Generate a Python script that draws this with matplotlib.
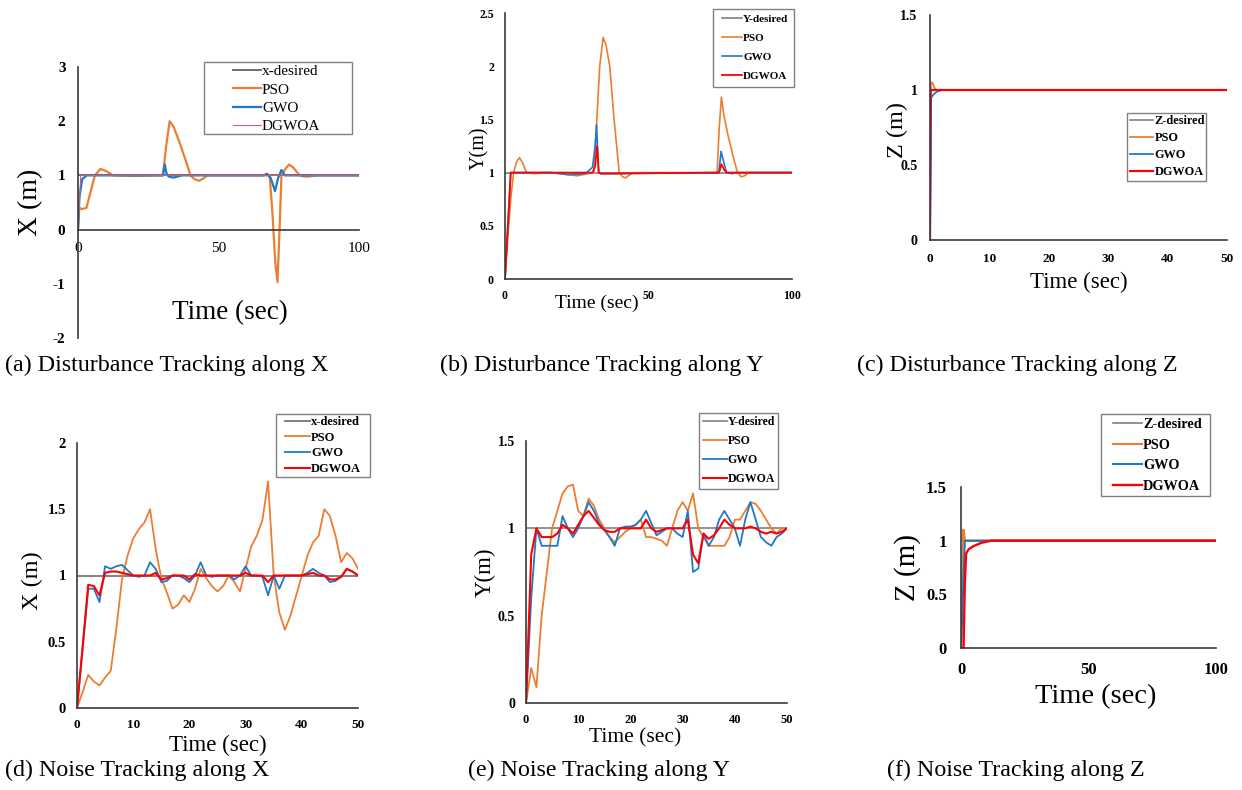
import numpy as np
import matplotlib
matplotlib.use('Agg')
import matplotlib.pyplot as plt
from matplotlib.patches import Rectangle
from matplotlib.ticker import FormatStrFormatter

plt.rcParams['font.family'] = ['Liberation Serif', 'DejaVu Serif']

# ---------------- data ----------------
# (a) disturbance, X
a_t_des = [0, 100]
a_des = [1, 1]
a_t_pso = [0, 0.5, 1.5, 3, 4.5, 6, 8, 10, 12.5, 20, 30.2, 31.4, 32.6, 34, 36.2, 38.5, 40, 41.5, 43, 44.5, 46, 60, 68.2,
           69.2, 70.2, 71, 71.8, 72.4, 73.8, 75.1, 76.5, 78.9, 80.5, 82, 85, 100]
a_pso = [0, 0.4, 0.38, 0.4, 0.7, 1.0, 1.12, 1.08, 1.0, 0.99, 1.0, 1.55, 2.0, 1.9, 1.6, 1.25, 1.0, 0.93, 0.9, 0.94, 1.0,
         1.0, 1.0, 0.3, -0.6, -0.97, 0.1, 1.0, 1.12, 1.2, 1.15, 1.0, 0.98, 0.98, 1.0, 1.0]
a_t_gwo = [0, 0.5, 1.5, 3, 30.2, 30.9, 31.4, 32.2, 34, 37, 66, 67.3, 68.6, 70.1, 71.2, 72.4, 73.6, 75, 100]
a_gwo = [0, 0.6, 0.93, 1.0, 1.0, 1.2, 1.05, 0.98, 0.96, 1.0, 1.0, 1.03, 0.95, 0.71, 0.95, 1.1, 1.0, 1.0, 1.0]
a_t_dgw = [0, 1, 100]
a_dgw = [0, 1.0, 1.0]

# (b) disturbance, Y
b_t_des = [0, 100]
b_des = [1, 1]
b_t_pso = [0, 1, 2, 3, 4, 5, 6, 7.5, 10, 16, 20, 25, 29, 31, 31.9, 33, 34.2, 35.2, 36.5, 38, 39.8, 41, 42, 43, 44.5,
           73.9, 74.6, 75.4, 76.2, 77.7, 79.5, 81, 82.3, 83.5, 85, 100]
b_pso = [0, 0.4, 0.75, 1.0, 1.1, 1.14, 1.1, 1.0, 0.99, 1.0, 0.99, 0.97, 0.99, 1.0, 1.45, 2.0, 2.27, 2.2, 2.0, 1.5, 1.0,
         0.96, 0.95, 0.97, 1.0, 1.0, 1.4, 1.71, 1.55, 1.35, 1.15, 1.0, 0.96, 0.97, 1.0, 1.0]
b_t_gwo = [0, 2, 16, 22, 28, 30.5, 31.4, 31.9, 32.6, 33.5, 74.5, 75.3, 76.2, 77.2, 79, 81, 100]
b_gwo = [0, 1.0, 1.0, 0.98, 0.99, 1.05, 1.25, 1.45, 1.0, 0.99, 1.0, 1.2, 1.1, 1.0, 0.99, 1.0, 1.0]
b_t_dgw = [0, 2, 30.5, 31.4, 32.1, 32.7, 33.5, 74.6, 75.4, 76.3, 77.2, 100]
b_dgw = [0, 1.0, 1.0, 1.06, 1.25, 1.0, 0.99, 1.0, 1.08, 1.03, 1.0, 1.0]

# (c) disturbance, Z
c_t_des = [0, 50]
c_des = [1, 1]
c_t_pso = [0, 0.15, 0.4, 0.7, 1.0, 50]
c_pso = [0, 1.05, 1.05, 1.02, 1.0, 1.0]
c_t_gwo = [0, 0.2, 0.6, 1.2, 2, 50]
c_gwo = [0, 0.95, 0.97, 0.99, 1.0, 1.0]
c_t_dgw = [0, 0.1, 50]
c_dgw = [0, 1.0, 1.0]

# (d) noise, X  (one reading per second)
d_t = np.arange(51)
d_des = [1] * 51
d_pso = [0, 0.12, 0.25, 0.2, 0.17, 0.23, 0.28, 0.6, 0.97, 1.15,
         1.28, 1.35, 1.4, 1.5, 1.2, 0.98, 0.87, 0.75, 0.78, 0.85,
         0.8, 0.9, 1.05, 0.98, 0.92, 0.88, 0.92, 1.0, 0.95, 0.88,
         1.05, 1.22, 1.3, 1.42, 1.71, 1.0, 0.72, 0.59, 0.7, 0.85,
         1.0, 1.15, 1.25, 1.3, 1.5, 1.45, 1.3, 1.1, 1.17, 1.13, 1.05]
d_gwo = [0, 0.45, 0.9, 0.9, 0.8, 1.07, 1.05, 1.07, 1.08, 1.04,
         1.0, 0.99, 1.0, 1.1, 1.05, 0.95, 0.96, 1.0, 1.0, 0.98,
         0.95, 1.0, 1.1, 1.0, 0.99, 1.0, 1.0, 1.0, 0.97, 1.0,
         1.07, 1.0, 1.0, 0.99, 0.85, 1.0, 0.9, 1.0, 1.0, 1.0,
         1.0, 1.02, 1.05, 1.02, 1.0, 0.95, 0.96, 0.99, 1.05, 1.03, 1.0]
d_dgw = [0, 0.46, 0.93, 0.92, 0.85, 1.02, 1.03, 1.03, 1.02, 1.01,
         1.0, 1.0, 1.0, 1.0, 1.02, 0.97, 0.98, 1.0, 1.0, 1.0,
         0.97, 1.01, 1.0, 1.0, 1.0, 1.0, 1.0, 1.0, 1.0, 1.0,
         1.02, 1.0, 1.0, 1.0, 0.95, 1.0, 1.0, 1.0, 1.0, 1.0,
         1.0, 1.01, 1.02, 1.0, 1.0, 0.97, 0.97, 0.99, 1.05, 1.03, 1.0]

# (e) noise, Y
e_t = np.arange(51)
e_des = [1] * 51
e_pso = [0, 0.2, 0.09, 0.5, 0.75, 1.0, 1.1, 1.2, 1.24, 1.25,
         1.1, 1.07, 1.17, 1.13, 1.05, 1.0, 0.95, 0.92, 0.95, 0.98,
         1.0, 1.02, 1.05, 0.95, 0.95, 0.94, 0.93, 0.9, 1.0, 1.1,
         1.15, 1.1, 1.2, 1.0, 0.95, 0.9, 0.9, 0.9, 0.9, 0.95,
         1.05, 1.05, 1.1, 1.15, 1.14, 1.1, 1.05, 1.0, 0.97, 1.0, 1.0]
e_gwo = [0, 0.6, 1.0, 0.9, 0.9, 0.9, 0.9, 1.07, 1.0, 0.95,
         1.0, 1.07, 1.15, 1.1, 1.03, 0.99, 0.95, 0.9, 1.0, 1.01,
         1.01, 1.02, 1.05, 1.1, 1.03, 0.96, 0.98, 1.0, 1.0, 0.97,
         0.95, 1.1, 0.75, 0.77, 0.97, 0.9, 0.95, 1.05, 1.1, 1.05,
         1.0, 0.9, 1.05, 1.15, 1.05, 0.95, 0.92, 0.9, 0.95, 0.97, 1.0]
e_dgw = [0, 0.85, 1.0, 0.95, 0.95, 0.95, 0.97, 1.02, 1.0, 0.97,
         1.02, 1.07, 1.1, 1.06, 1.02, 0.99, 0.98, 0.98, 1.0, 1.0,
         1.0, 1.0, 1.0, 1.05, 1.0, 0.98, 0.99, 1.0, 1.0, 1.0,
         1.0, 1.05, 0.85, 0.8, 0.97, 0.94, 0.96, 1.0, 1.05, 1.02,
         1.0, 1.0, 1.0, 1.01, 1.0, 0.98, 0.97, 0.98, 0.97, 0.98, 1.0]

# (f) noise, Z
f_t_des = [0, 100]
f_des = [1, 1]
f_t_pso = [0, 0.8, 1.1, 1.5, 2, 100]
f_pso = [0, 1.1, 1.1, 1.0, 1.0, 1.0]
f_t_gwo = [0, 1.5, 2, 100]
f_gwo = [0, 1.0, 1.0, 1.0]
f_t_dgw = [0, 1.0, 1.5, 2, 3, 5, 8, 12, 100]
f_dgw = [0, 0, 0.6, 0.88, 0.92, 0.95, 0.98, 1.0, 1.0]

captions = ['(a) Disturbance Tracking along X', '(b) Disturbance Tracking along Y',
            '(c) Disturbance Tracking along Z', '(d) Noise Tracking along X',
            '(e) Noise Tracking along Y', '(f) Noise Tracking along Z']

GRAY = '#808080'
ORANGE = '#ED7D31'
BLUE = '#1F78C8'
RED = '#FF0000'
AXC = '#3a3a3a'

W, H = 1242, 790
fig = plt.figure(figsize=(W / 100, H / 100), dpi=100)


def box(x0, x1, ytop, ybot):
    return [x0 / W, 1 - ybot / H, (x1 - x0) / W, (ybot - ytop) / H]


def panel(px, xlim, ylim, xticks, yticks, xfs, yfs, pad):
    ax = fig.add_axes(box(*px))
    ax.set_xlim(xlim)
    ax.set_ylim(ylim)
    ax.set_xticks(xticks)
    ax.set_yticks(yticks)
    ax.xaxis.set_major_formatter(FormatStrFormatter('%g'))
    ax.yaxis.set_major_formatter(FormatStrFormatter('%g'))
    for s in ['top', 'right']:
        ax.spines[s].set_visible(False)
    for s in ['left', 'bottom']:
        ax.spines[s].set_color(AXC)
        ax.spines[s].set_linewidth(1.2)
    ax.tick_params(axis='x', length=0, labelsize=xfs, pad=pad)
    ax.tick_params(axis='y', length=0, labelsize=yfs, pad=pad)
    for lab in ax.get_xticklabels() + ax.get_yticklabels():
        lab.set_fontweight('bold')
    ax.set_facecolor('none')
    return ax


def labels(ax, ylab, yfs, ypos, xfs, xpos):
    ax.set_ylabel(ylab, fontsize=yfs)
    ax.yaxis.set_label_coords(*ypos)
    ax.yaxis.label.set_va('center')
    ax.set_xlabel('Time (sec)', fontsize=xfs)
    ax.xaxis.set_label_coords(*xpos)
    ax.xaxis.label.set_va('center')


def legend(ax, frame, hx, cy, fs, hl, ls, weight='bold'):
    ax.legend(loc='center left', bbox_to_anchor=(hx / W, 1 - cy / H), bbox_transform=fig.transFigure,
              frameon=False, borderpad=0, borderaxespad=0, handlelength=hl, handletextpad=0.1,
              labelspacing=ls, prop={'weight': weight, 'size': fs})
    x0, x1, y0, y1 = frame
    fig.add_artist(Rectangle((x0 / W, 1 - y1 / H), (x1 - x0) / W, (y1 - y0) / H,
                             transform=fig.transFigure, fill=False, ec=GRAY, lw=1.0))


# ---- (a)
ax = panel((78, 359, 67, 338), (0, 100), (-2, 3), [0, 50, 100], [-2, -1, 0, 1, 2, 3], 11, 11, 9)
ax.spines['bottom'].set_position(('data', 0))
ax.plot(a_t_des, a_des, color='#6d6d6d', lw=1.4, label='x-desired')
ax.plot(a_t_pso, a_pso, color=ORANGE, lw=1.6, label='PSO')
ax.plot(a_t_gwo, a_gwo, color=BLUE, lw=1.6, label='GWO')
ax.plot(a_t_dgw, a_dgw, color='#c8607a', lw=0.8, label='DGWOA')
labels(ax, 'X (m)', 20, (-0.17, 0.5), 19.5, (0.54, 0.092))
legend(ax, (204, 352, 62, 134), 233, 99, 11, 1.8, 0.3, weight='normal')

# ---- (b)
ax = panel((505, 792, 13, 279), (0, 100), (0, 2.5), [0, 50, 100], [0, 0.5, 1, 1.5, 2, 2.5], 8.5, 8.5, 8)
ax.plot(b_t_des, b_des, color=GRAY, lw=1.2, label='Y-desired')
ax.plot(b_t_pso, b_pso, color=ORANGE, lw=1.2, label='PSO')
ax.plot(b_t_gwo, b_gwo, color=BLUE, lw=1.2, label='GWO')
ax.plot(b_t_dgw, b_dgw, color=RED, lw=1.3, label='DGWOA')
labels(ax, 'Y(m)', 14.5, (-0.087, 0.49), 14, (0.32, -0.09))
legend(ax, (713, 794, 9, 87), 722, 47.5, 8, 1.8, 0.85)

# ---- (c)
ax = panel((930, 1227, 15, 240), (0, 50), (0, 1.5), [0, 10, 20, 30, 40, 50], [0, 0.5, 1, 1.5], 9.5, 10, 9)
ax.plot(c_t_des, c_des, color=GRAY, lw=1.2, label='Z-desired')
ax.plot(c_t_pso, c_pso, color=ORANGE, lw=1.3, label='PSO')
ax.plot(c_t_gwo, c_gwo, color=BLUE, lw=1.3, label='GWO')
ax.plot(c_t_dgw, c_dgw, color=RED, lw=1.6, label='DGWOA')
labels(ax, 'Z (m)', 17.5, (-0.108, 0.49), 16.5, (0.5, -0.19))
legend(ax, (1127, 1206, 113, 181), 1130, 146.5, 8.8, 1.9, 0.42)

# ---- (d)
ax = panel((77, 358, 443, 708), (0, 50), (0, 2), [0, 10, 20, 30, 40, 50], [0, 0.5, 1, 1.5, 2], 9.5, 10.5, 8)
ax.plot(d_t, d_des, color=GRAY, lw=1.4, label='x-desired')
ax.plot(d_t, d_pso, color=ORANGE, lw=1.3, label='PSO')
ax.plot(d_t, d_gwo, color=BLUE, lw=1.3, label='GWO')
ax.plot(d_t, d_dgw, color=RED, lw=1.5, label='DGWOA')
labels(ax, 'X (m)', 17.5, (-0.16, 0.48), 16.5, (0.5, -0.14))
legend(ax, (276, 370, 414, 477), 285, 445.5, 9, 2.0, 0.3)

# ---- (e)
ax = panel((526, 787, 441, 703), (0, 50), (0, 1.5), [0, 10, 20, 30, 40, 50], [0, 0.5, 1, 1.5], 9, 10, 8)
ax.plot(e_t, e_des, color=GRAY, lw=1.2, label='Y-desired')
ax.plot(e_t, e_pso, color=ORANGE, lw=1.3, label='PSO')
ax.plot(e_t, e_gwo, color=BLUE, lw=1.3, label='GWO')
ax.plot(e_t, e_dgw, color=RED, lw=1.5, label='DGWOA')
labels(ax, 'Y(m)', 16.5, (-0.157, 0.5), 15.5, (0.42, -0.134))
legend(ax, (699, 778, 413, 489), 703, 450.5, 8.5, 2.0, 0.6)

# ---- (f)
ax = panel((961, 1216, 487, 648), (0, 100), (0, 1.5), [0, 50, 100], [0, 0.5, 1, 1.5], 12, 12, 10)
ax.plot(f_t_des, f_des, color=GRAY, lw=1.2, label='Z-desired')
ax.plot(f_t_pso, f_pso, color=ORANGE, lw=1.5, label='PSO')
ax.plot(f_t_gwo, f_gwo, color=BLUE, lw=1.5, label='GWO')
ax.plot(f_t_dgw, f_dgw, color=RED, lw=1.7, label='DGWOA')
labels(ax, 'Z (m)', 21, (-0.21, 0.5), 20.5, (0.53, -0.30))
legend(ax, (1101, 1210, 414, 496), 1113, 455.5, 10.3, 2.0, 0.55)

# captions under each panel
cap_pos = [(5, 365), (440, 365), (857, 365), (5, 770), (468, 770), (887, 770)]
for txt, (cx, cy) in zip(captions, cap_pos):
    fig.text(cx / W, 1 - cy / H, txt, fontsize=17.3, ha='left', va='center')

fig.savefig('out.png', dpi=100)
